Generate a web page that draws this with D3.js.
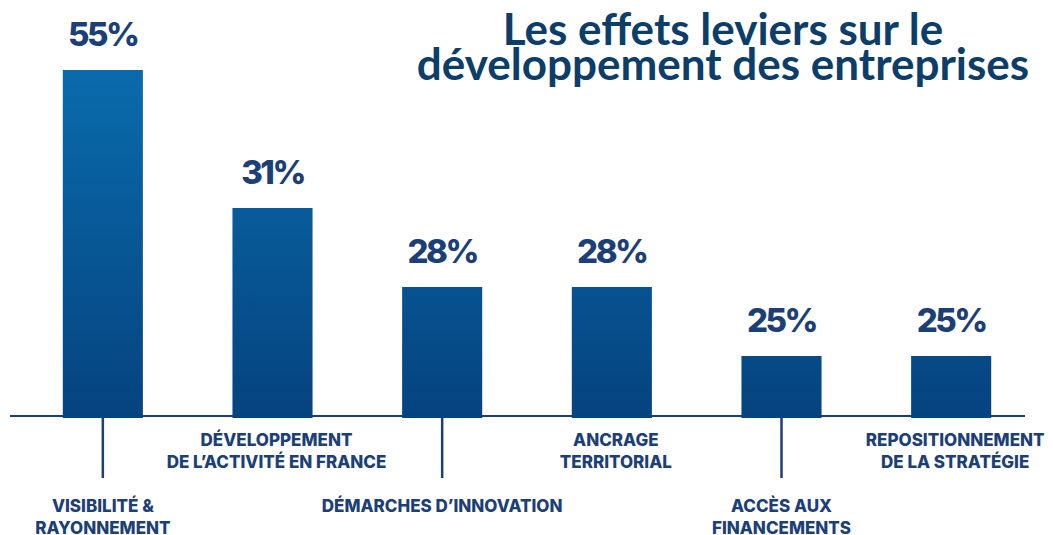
<!DOCTYPE html>
<html>
<head>
<meta charset="utf-8">
<script src="https://cdn.jsdelivr.net/npm/d3@7"></script>
<style>
  html, body { margin: 0; padding: 0; background: #fff; }
  svg { display: block; }
</style>
</head>
<body>
<script>
// données
const categories = [
  ["VISIBILITÉ &", "RAYONNEMENT"],
  ["DÉVELOPPEMENT", "DE L’ACTIVITÉ EN FRANCE"],
  ["DÉMARCHES D’INNOVATION"],
  ["ANCRAGE", "TERRITORIAL"],
  ["ACCÈS AUX", "FINANCEMENTS"],
  ["REPOSITIONNEMENT", "DE LA STRATÉGIE"]
];
const values = [55, 31, 28, 28, 25, 25];
const titleLines = ["Les effets leviers sur le", "développement des entreprises"];

// l'échelle du graphique d'origine n'est pas linéaire : paliers
const valueStops = [20, 25, 28, 31, 55];
const heightStops = [0, 60, 129, 208, 346];

const width = 1053, height = 535;
const baseline = 416;

const svg = d3.select("body").append("svg")
  .attr("width", width)
  .attr("height", height);

const defs = svg.append("defs");
const grad = defs.append("linearGradient")
  .attr("id", "barGrad")
  .attr("gradientUnits", "userSpaceOnUse")
  .attr("x1", 0).attr("x2", 0)
  .attr("y1", 70).attr("y2", baseline);
grad.append("stop").attr("offset", "0%").attr("stop-color", "#0a6bac");
grad.append("stop").attr("offset", "100%").attr("stop-color", "#05437f");

const x = d3.scaleBand()
  .domain(d3.range(values.length))
  .range([18, 1036])
  .paddingInner(0.528)
  .paddingOuter(0.264);

const h = d3.scaleLinear().domain(valueStops).range(heightStops);
const y = v => baseline - h(v);

const navy = "#1c3f78";

// titre
svg.append("text")
  .attr("x", 723)
  .attr("y", 45)
  .attr("text-anchor", "middle")
  .attr("fill", "#0d3d69")
  .style("font", "700 44px 'Lato', 'Open Sans', sans-serif")
  .selectAll("tspan")
  .data(titleLines)
  .join("tspan")
  .attr("x", 723)
  .attr("dy", (d, i) => i ? 35 : 0)
  .text(d => d);

// ligne d'axe
svg.append("line")
  .attr("x1", 10).attr("x2", 1025)
  .attr("y1", baseline).attr("y2", baseline)
  .attr("stroke", navy)
  .attr("stroke-width", 2);

// traits de repère sous les barres (un sur deux)
svg.append("g")
  .selectAll("line")
  .data(values.map((v, i) => i).filter(i => i % 2 === 0))
  .join("line")
  .attr("x1", i => x(i) + x.bandwidth() / 2)
  .attr("x2", i => x(i) + x.bandwidth() / 2)
  .attr("y1", baseline)
  .attr("y2", 478)
  .attr("stroke", navy)
  .attr("stroke-width", 2.5);

// barres
svg.append("g")
  .selectAll("rect")
  .data(values)
  .join("rect")
  .attr("x", (d, i) => x(i))
  .attr("width", x.bandwidth())
  .attr("y", d => y(d))
  .attr("height", d => h(d) + 2)
  .attr("fill", "url(#barGrad)");

// valeurs
svg.append("g")
  .selectAll("text")
  .data(values)
  .join("text")
  .attr("x", (d, i) => x(i) + x.bandwidth() / 2)
  .attr("y", d => y(d) - 24)
  .attr("text-anchor", "middle")
  .attr("fill", navy)
  .style("font", "800 33px 'Inter', 'Liberation Sans', sans-serif")
  .style("letter-spacing", "-2.5px")
  .text(d => d + "%");

// étiquettes : alternance haut / bas
const labels = svg.append("g")
  .selectAll("text")
  .data(categories)
  .join("text")
  .attr("text-anchor", "middle")
  .attr("fill", navy)
  .style("font", "800 17px 'Inter', 'Liberation Sans', sans-serif")
  .style("letter-spacing", "0px")
  .attr("transform", (d, i) => {
    const cx = x(i) + x.bandwidth() / 2 + (i % 2 ? 4 : 0);
    const cy = i % 2 ? 446 : 512;
    return `translate(${cx},${cy})`;
  });

labels.selectAll("tspan")
  .data(d => d)
  .join("tspan")
  .attr("x", 0)
  .attr("dy", (d, i) => i ? 22 : 0)
  .text(d => d);
</script>
</body>
</html>
